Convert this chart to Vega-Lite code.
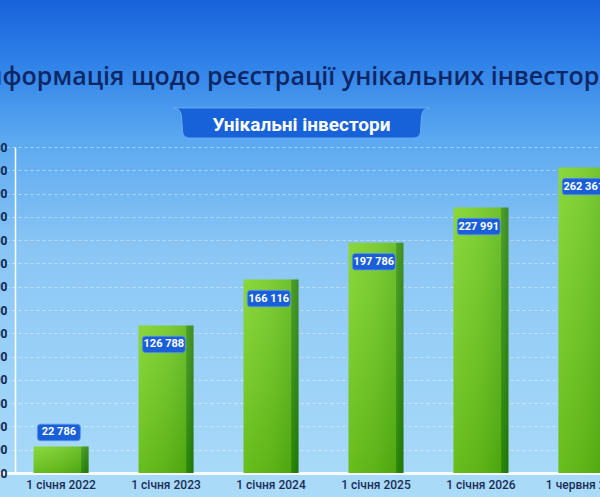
{
  "$schema": "https://vega.github.io/schema/vega-lite/v6.json",
  "width": 600,
  "height": 497,
  "autosize": {"type": "none"},
  "padding": 0,
  "background": "#4f9ded",
  "config": {
    "locale": {"number": {"decimal": ",", "thousands": " ", "grouping": [3], "currency": ["", ""]}},
    "font": "Roboto",
    "view": {
      "stroke": null,
      "fill": {
        "gradient": "linear", "x1": 0, "y1": 0, "x2": 0, "y2": 1,
        "stops": [
          {"offset": 0, "color": "#1862da"},
          {"offset": 0.12, "color": "#2d80e8"},
          {"offset": 0.28, "color": "#5ba9f0"},
          {"offset": 0.5, "color": "#8ac6f5"},
          {"offset": 0.8, "color": "#9fd4f8"},
          {"offset": 1, "color": "#aadbf8"}
        ]
      }
    }
  },
  "title": {
    "text": "Інформація щодо реєстрації унікальних інвесторів",
    "orient": "top",
    "anchor": "middle",
    "frame": "group",
    "offset": -110,
    "baseline": "alphabetic",
    "fontSize": 25,
    "fontWeight": 600,
    "color": "#0d2766",
    "font": "Open Sans"
  },
  "data": {
    "values": [
      {"date": "1 січня 2022", "investors": 22786},
      {"date": "1 січня 2023", "investors": 126788},
      {"date": "1 січня 2024", "investors": 166116},
      {"date": "1 січня 2025", "investors": 197786},
      {"date": "1 січня 2026", "investors": 227991},
      {"date": "1 червня 2026", "investors": 262361}
    ]
  },
  "encoding": {
    "x": {
      "field": "date",
      "type": "nominal",
      "sort": null,
      "scale": {
        "domain": ["1 січня 2022", "1 січня 2023", "1 січня 2024", "1 січня 2025", "1 січня 2026", "1 червня 2026"],
        "range": [0, 647],
        "paddingInner": 0.476,
        "paddingOuter": 0.32
      },
      "axis": {
        "title": null,
        "offset": -24,
        "domainColor": "#ffffff",
        "domainWidth": 3,
        "domainOpacity": 0.9,
        "ticks": false,
        "labelPadding": 6,
        "labelFontSize": 12,
        "labelColor": "#1a2d5a",
        "labelFont": "Roboto",
        "labelFontWeight": 500,
        "labelAngle": 0,
        "grid": false
      }
    }
  },
  "layer": [
    {
      "encoding": {
        "y": {
          "field": "investors",
          "type": "quantitative",
          "scale": {"domain": [0, 280000], "range": [473, 147], "nice": false},
          "axis": {
            "title": null,
            "offset": -15,
            "values": [0, 20000, 40000, 60000, 80000, 100000, 120000, 140000, 160000, 180000, 200000, 220000, 240000, 260000, 280000],
            "tickCount": 20,
            "labelOverlap": false,
            "format": ",d",
            "labelAlign": "right",
            "labelPadding": 8,
            "ticks": false,
            "domainColor": "#ffffff",
            "domainWidth": 1.5,
            "gridColor": "#ffffff",
            "gridOpacity": 0.45,
            "gridDash": [3, 3],
            "labelColor": "#0f2450",
            "labelFontSize": 12,
            "labelFontWeight": "bold"
          }
        }
      },
      "layer": [
        {
          "mark": {
            "type": "bar",
            "fill": {
              "gradient": "linear", "x1": 0, "y1": 0, "x2": 1, "y2": 0,
              "stops": [
                {"offset": 0, "color": "#7ad222"},
                {"offset": 0.5, "color": "#6cc61b"},
                {"offset": 0.86, "color": "#5ab713"},
                {"offset": 0.875, "color": "#33920c"},
                {"offset": 1, "color": "#257c08"}
              ]
            }
          }
        },
        {
          "mark": {
            "type": "bar",
            "fill": {
              "gradient": "linear", "x1": 0, "y1": 0, "x2": 0, "y2": 1,
              "stops": [
                {"offset": 0, "color": "rgba(255,255,255,0.12)"},
                {"offset": 1, "color": "rgba(0,70,0,0.15)"}
              ]
            }
          }
        },
        {
          "mark": {
            "type": "point",
            "shape": "M-0.86,-0.384L0.86,-0.384Q1,-0.384 1,-0.24L1,0.24Q1,0.384 0.86,0.384L-0.86,0.384Q-1,0.384 -1,0.24L-1,-0.24Q-1,-0.384 -0.86,-0.384Z",
            "size": 1849,
            "filled": true,
            "fill": "#1a5fd8",
            "opacity": 1,
            "stroke": "#5a97ee",
            "strokeWidth": 0.8,
            "yOffset": {"expr": "datum.investors < 50000 ? -14 : 19"}
          },
          "encoding": {
            "x": {"field": "date", "type": "nominal", "bandPosition": 0.46}
          }
        },
        {
          "mark": {
            "type": "text",
            "color": "#ffffff",
            "fontSize": 11,
            "fontWeight": "bold",
            "baseline": "middle",
            "align": "center",
            "yOffset": {"expr": "datum.investors < 50000 ? -14 : 19"}
          },
          "encoding": {
            "x": {"field": "date", "type": "nominal", "bandPosition": 0.46},
            "text": {"field": "investors", "type": "quantitative", "format": ",d"}
          }
        }
      ]
    },
    {
      "data": {"values": [{"subtitle": "Унікальні інвестори"}]},
      "layer": [
        {
          "mark": {
            "type": "point",
            "shape": "M-1,-0.117L1,-0.117Q0.945,-0.117 0.935,-0.06L0.925,0.075Q0.915,0.117 0.87,0.117L-0.87,0.117Q-0.915,0.117 -0.925,0.075L-0.935,-0.06Q-0.945,-0.117 -1,-0.117Z",
            "size": 66049,
            "filled": true,
            "fill": "#1762d8",
            "opacity": 1,
            "stroke": "#6aaaf2",
            "strokeWidth": 1
          },
          "encoding": {
            "x": {"datum": "1 січня 2024", "bandPosition": 1.055},
            "y": {"datum": 300613}
          }
        },
        {
          "mark": {
            "type": "text",
            "color": "#ffffff",
            "fontSize": 19,
            "fontWeight": "bold",
            "baseline": "middle",
            "align": "center"
          },
          "encoding": {
            "x": {"datum": "1 січня 2024", "bandPosition": 1.055},
            "y": {"datum": 299325},
            "text": {"field": "subtitle"}
          }
        }
      ]
    }
  ]
}
